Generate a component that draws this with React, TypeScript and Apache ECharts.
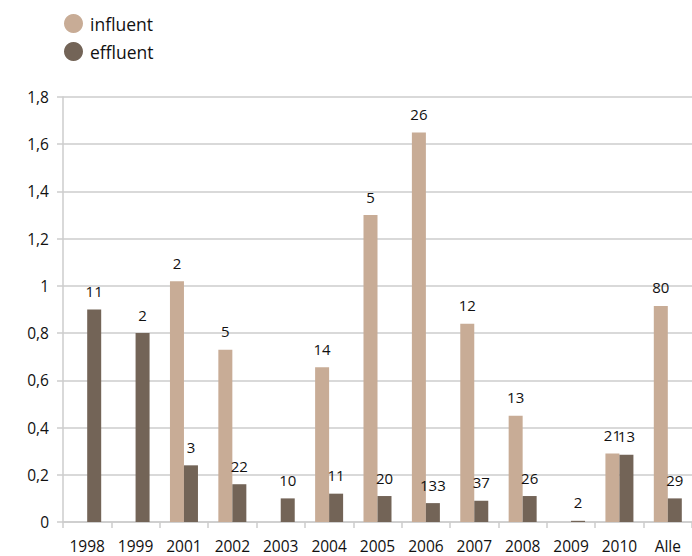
import React, { useEffect, useRef } from "react";
import * as echarts from "echarts";

const categories = ["1998", "1999", "2001", "2002", "2003", "2004", "2005", "2006", "2007", "2008", "2009", "2010", "Alle"];
const influentValues: (number | null)[] = [null, null, 1.02, 0.73, null, 0.655, 1.3, 1.65, 0.84, 0.45, null, 0.29, 0.915];
const effluentValues: (number | null)[] = [0.9, 0.8, 0.24, 0.16, 0.1, 0.12, 0.11, 0.08, 0.09, 0.11, 0.005, 0.285, 0.1];
const influentCounts: (string | null)[] = [null, null, "2", "5", null, "14", "5", "26", "12", "13", null, "21", "80"];
const effluentCounts: (string | null)[] = ["11", "2", "3", "22", "10", "11", "20", "133", "37", "26", "2", "13", "29"];
const seriesNames = ["influent", "effluent"];

const FONT = "'Open Sans', 'Noto Sans', sans-serif";
const TEXT = "#111111";
const GRID = "#cccccc";

export default function App() {
  const ref = useRef<HTMLDivElement>(null);
  useEffect(() => {
    if (!ref.current) return;
    const chart = echarts.init(ref.current, null, { renderer: "svg" });
    const labelFor = (counts: (string | null)[]) => ({
      show: true,
      position: "top",
      distance: 11,
      fontFamily: FONT,
      fontSize: 15,
      color: TEXT,
      formatter: (p: any) => counts[p.dataIndex] ?? "",
    });
    chart.setOption({
      animation: false,
      textStyle: { fontFamily: FONT },
      legend: {
        data: seriesNames,
        orient: "vertical",
        left: 64,
        top: 14,
        padding: 0,
        icon: "circle",
        itemWidth: 19,
        itemHeight: 19,
        itemGap: 9,
        textStyle: { fontFamily: FONT, fontSize: 17.5, color: TEXT, padding: [0, 0, 0, 2] },
      },
      grid: { left: 63, top: 97, width: 637, height: 425, containLabel: false },
      xAxis: {
        type: "category",
        data: categories,
        axisLine: { show: true, lineStyle: { color: GRID, width: 1.5 } },
        axisTick: { show: true, length: 6, lineStyle: { color: GRID, width: 1.5 } },
        axisLabel: { fontFamily: FONT, fontSize: 15.5, color: TEXT, margin: 16 },
      },
      yAxis: {
        type: "value",
        min: 0,
        max: 1.8,
        interval: 0.2,
        axisLine: { show: true, lineStyle: { color: GRID, width: 1.5 } },
        axisTick: { show: true, length: 6, lineStyle: { color: GRID, width: 1.5 } },
        splitLine: { show: true, lineStyle: { color: GRID, width: 1.5 } },
        axisLabel: {
          fontFamily: FONT,
          fontSize: 15.5,
          color: TEXT,
          margin: 14,
          formatter: (v: number) => String(Math.round(v * 10) / 10).replace(".", ","),
        },
      },
      series: [
        {
          name: seriesNames[0],
          type: "bar",
          data: influentValues,
          barWidth: 14,
          barGap: "0%",
          itemStyle: { color: "#c8ac96" },
          label: labelFor(influentCounts),
        },
        {
          name: seriesNames[1],
          type: "bar",
          data: effluentValues,
          barWidth: 14,
          barGap: "0%",
          itemStyle: { color: "#736457" },
          label: labelFor(effluentCounts),
        },
      ],
    });
    return () => chart.dispose();
  }, []);
  return (
    <div
      ref={ref}
      style={{ position: "fixed", left: 0, top: 0, width: 692, height: 556, background: "#fff" }}
    />
  );
}
